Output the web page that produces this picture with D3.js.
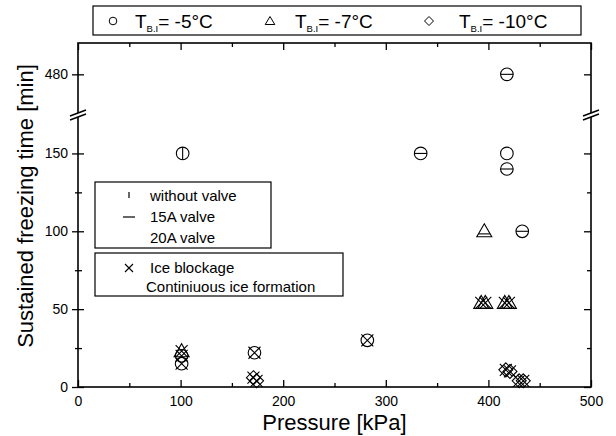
<!DOCTYPE html>
<html><head><meta charset="utf-8">
<script src="https://cdn.jsdelivr.net/npm/d3@7"></script>
<style>
body{margin:0;background:#fff}
svg{display:block}
text{font-family:"Liberation Sans",Arial,sans-serif;fill:#000}
</style>
</head><body>
<svg id="c" width="616" height="436"></svg>
<script>
// ---- data ----
const xTicks = [0, 100, 200, 300, 400, 500];
const xMinor = [50, 150, 250, 350, 450];
const yTicks = [0, 50, 100, 150, 480];
const yMinor = [25, 75, 125];
const tempLabels = ["-5°C", "-7°C", "-10°C"];
const valveLabels = ["without valve", "15A valve", "20A valve"];
const iceLabels = ["Ice blockage", "Continiuous ice formation"];

// T_B.I = -5°C (circles)
const circP     = [102, 334, 418, 418, 418, 433, 101, 101, 172, 282];
const circT     = [150, 150, 480, 150, 140, 100, 20, 15, 22, 30];
const circValve = ["none","15A","15A","20A","15A","15A","20A","20A","20A","20A"];
const circIce   = [0, 0, 0, 0, 0, 0, 1, 1, 1, 1];
// T_B.I = -7°C (triangles)
const triP     = [396, 101, 393, 397, 416, 420];
const triT     = [100, 23, 54, 54, 54, 54];
const triValve = ["15A","20A","20A","20A","20A","20A"];
const triIce   = [0, 1, 1, 1, 1, 1];
// T_B.I = -10°C (diamonds)
const diaP     = [171, 174, 417, 421, 430, 434];
const diaT     = [6, 4, 11, 10, 4, 4];
const diaValve = ["20A","20A","20A","20A","20A","20A"];
const diaIce   = [1, 1, 1, 1, 1, 1];

// ---- layout ----
const L = 78, R = 591, T = 43, B = 387, YB = 114;
const svg = d3.select("#c");
const x = d3.scaleLinear().domain([0, 500]).range([L, R]);
const y = d3.scaleLinear().domain([0, 175, 455, 500]).range([B, YB + 0.5, YB - 0.5, T]);

const black = "#000";
svg.append("rect").attr("x", L).attr("y", T).attr("width", R - L).attr("height", B - T)
  .attr("fill", "none").attr("stroke", black).attr("stroke-width", 1.6);

function clean(g){ g.select(".domain").remove(); g.selectAll("line").attr("stroke", black).attr("stroke-width", 1.3); }

// bottom axis
svg.append("g").attr("transform", `translate(0,${B})`)
  .call(d3.axisBottom(x).tickValues(xTicks).tickSize(-7).tickPadding(9).tickFormat(d3.format("d")))
  .call(clean)
  .call(g => g.selectAll("text").attr("font-size", 14).attr("font-family", "Liberation Sans"));
svg.append("g").attr("transform", `translate(0,${B})`)
  .call(d3.axisBottom(x).tickValues(xMinor).tickSize(-4).tickFormat("")).call(clean);
// top axis
svg.append("g").attr("transform", `translate(0,${T})`)
  .call(d3.axisTop(x).tickValues(xTicks).tickSize(-7).tickFormat("")).call(clean);
svg.append("g").attr("transform", `translate(0,${T})`)
  .call(d3.axisTop(x).tickValues(xMinor).tickSize(-4).tickFormat("")).call(clean);
// left axis (ticks cross)
svg.append("g").attr("transform", `translate(${L},0)`)
  .call(d3.axisLeft(y).tickValues(yTicks).tickSize(6).tickPadding(4).tickFormat(d3.format("d")))
  .call(clean)
  .call(g => g.selectAll("text").attr("font-size", 14).attr("font-family", "Liberation Sans"));
svg.append("g").attr("transform", `translate(${L},0)`)
  .call(d3.axisLeft(y).tickValues(yMinor).tickSize(3).tickFormat("")).call(clean);
svg.append("g").attr("transform", `translate(${L},0)`)
  .call(d3.axisRight(y).tickValues(yTicks).tickSize(6).tickFormat("")).call(clean);
svg.append("g").attr("transform", `translate(${L},0)`)
  .call(d3.axisRight(y).tickValues(yMinor).tickSize(4).tickFormat("")).call(clean);
// right axis (inside)
svg.append("g").attr("transform", `translate(${R},0)`)
  .call(d3.axisLeft(y).tickValues(yTicks).tickSize(7).tickFormat("")).call(clean);
svg.append("g").attr("transform", `translate(${R},0)`)
  .call(d3.axisLeft(y).tickValues(yMinor).tickSize(4).tickFormat("")).call(clean);

// axis breaks
[L, R].forEach(ax => {
  svg.append("path").attr("d", `M${ax-8},${YB+2}L${ax+8},${YB-4}L${ax+8},${YB}L${ax-8},${YB+6}Z`)
    .attr("fill", "#fff").attr("stroke", "none");
  svg.append("path").attr("d", `M${ax-8},${YB+2}L${ax+8},${YB-4}M${ax-8},${YB+6}L${ax+8},${YB}`)
    .attr("stroke", black).attr("stroke-width", 1.4).attr("fill", "none");
});

// axis titles
svg.append("text").attr("x", (L + R) / 2).attr("y", 430).attr("text-anchor", "middle")
  .attr("font-size", 22).text("Pressure [kPa]");
svg.append("text").attr("transform", `translate(33,${(T + B) / 2 - 9}) rotate(-90)`)
  .attr("text-anchor", "middle").attr("font-size", 22).text("Sustained freezing time [min]");

// ---- markers ----
const shapes = {
  circ: d3.symbol(d3.symbolCircle, Math.PI * 6.3 * 6.3)(),
  tri: "M0,-7.5L7.5,5.5L-7.5,5.5Z",
  dia: "M0,-7L7,0L0,7L-7,0Z"
};
function valveMark(kind, valve){
  if (valve === "none") return "M0,-6.3L0,6.3";
  if (valve === "15A") return kind === "tri" ? "M-5.6,2.6L5.6,2.6" : "M-6.3,0L6.3,0";
  return "";
}
function drawSeries(kind, P, Tm, V, I){
  const g = svg.append("g");
  P.forEach((p, i) => {
    const gg = g.append("g").attr("transform", `translate(${x(p)},${y(Tm[i])})`);
    gg.append("path").attr("d", shapes[kind]).attr("fill", "none").attr("stroke", black).attr("stroke-width", 1.1);
    const vm = valveMark(kind, V[i]);
    if (vm) gg.append("path").attr("d", vm).attr("stroke", black).attr("stroke-width", 1.1);
    if (I[i]) gg.append("path").attr("d", "M-6,-6L6,6M-6,6L6,-6").attr("stroke", black).attr("stroke-width", 1.1);
  });
}
drawSeries("circ", circP, circT, circValve, circIce);
drawSeries("tri", triP, triT, triValve, triIce);
drawSeries("dia", diaP, diaT, diaValve, diaIce);

// ---- top legend ----
svg.append("rect").attr("x", 93).attr("y", 6).attr("width", 488).attr("height", 29)
  .attr("fill", "#fff").attr("stroke", black).attr("stroke-width", 1.2);
const legSym = [
  {d: d3.symbol(d3.symbolCircle, Math.PI * 3.8 * 3.8)(), x: 113, tx: 135},
  {d: "M0,-4.5L4.8,3.5L-4.8,3.5Z", x: 270, tx: 295},
  {d: "M0,-4.5L4.5,0L0,4.5L-4.5,0Z", x: 429, tx: 459}
];
legSym.forEach((s, i) => {
  svg.append("path").attr("d", s.d).attr("transform", `translate(${s.x},21)`)
    .attr("fill", "none").attr("stroke", black).attr("stroke-width", 1);
  const t = svg.append("text").attr("x", s.tx).attr("y", 28).attr("font-size", 19);
  t.append("tspan").text("T");
  t.append("tspan").attr("font-size", 9.5).attr("dy", 4).text("B.I");
  t.append("tspan").attr("dy", -4).text("= " + tempLabels[i]);
});

// ---- inner legends ----
svg.append("rect").attr("x", 95).attr("y", 182).attr("width", 176).attr("height", 66)
  .attr("fill", "#fff").attr("stroke", black).attr("stroke-width", 1.2);
const vRows = [201, 222, 243];
valveLabels.forEach((lab, i) => {
  svg.append("text").attr("x", 150).attr("y", vRows[i]).attr("font-size", 15).text(lab);
});
svg.append("path").attr("d", `M129,${vRows[0]-9}L129,${vRows[0]-3}`).attr("stroke", black).attr("stroke-width", 1.2);
svg.append("path").attr("d", `M123,${vRows[1]-5}L135,${vRows[1]-5}`).attr("stroke", black).attr("stroke-width", 1.2);

svg.append("rect").attr("x", 95).attr("y", 253).attr("width", 248).attr("height", 43)
  .attr("fill", "#fff").attr("stroke", black).attr("stroke-width", 1.2);
svg.append("text").attr("x", 150).attr("y", 273).attr("font-size", 15).text(iceLabels[0]);
svg.append("text").attr("x", 146).attr("y", 292).attr("font-size", 15).text(iceLabels[1]);
svg.append("path").attr("d", "M125,264L133,272M125,272L133,264").attr("stroke", black).attr("stroke-width", 1.1);
</script>
</body></html>
